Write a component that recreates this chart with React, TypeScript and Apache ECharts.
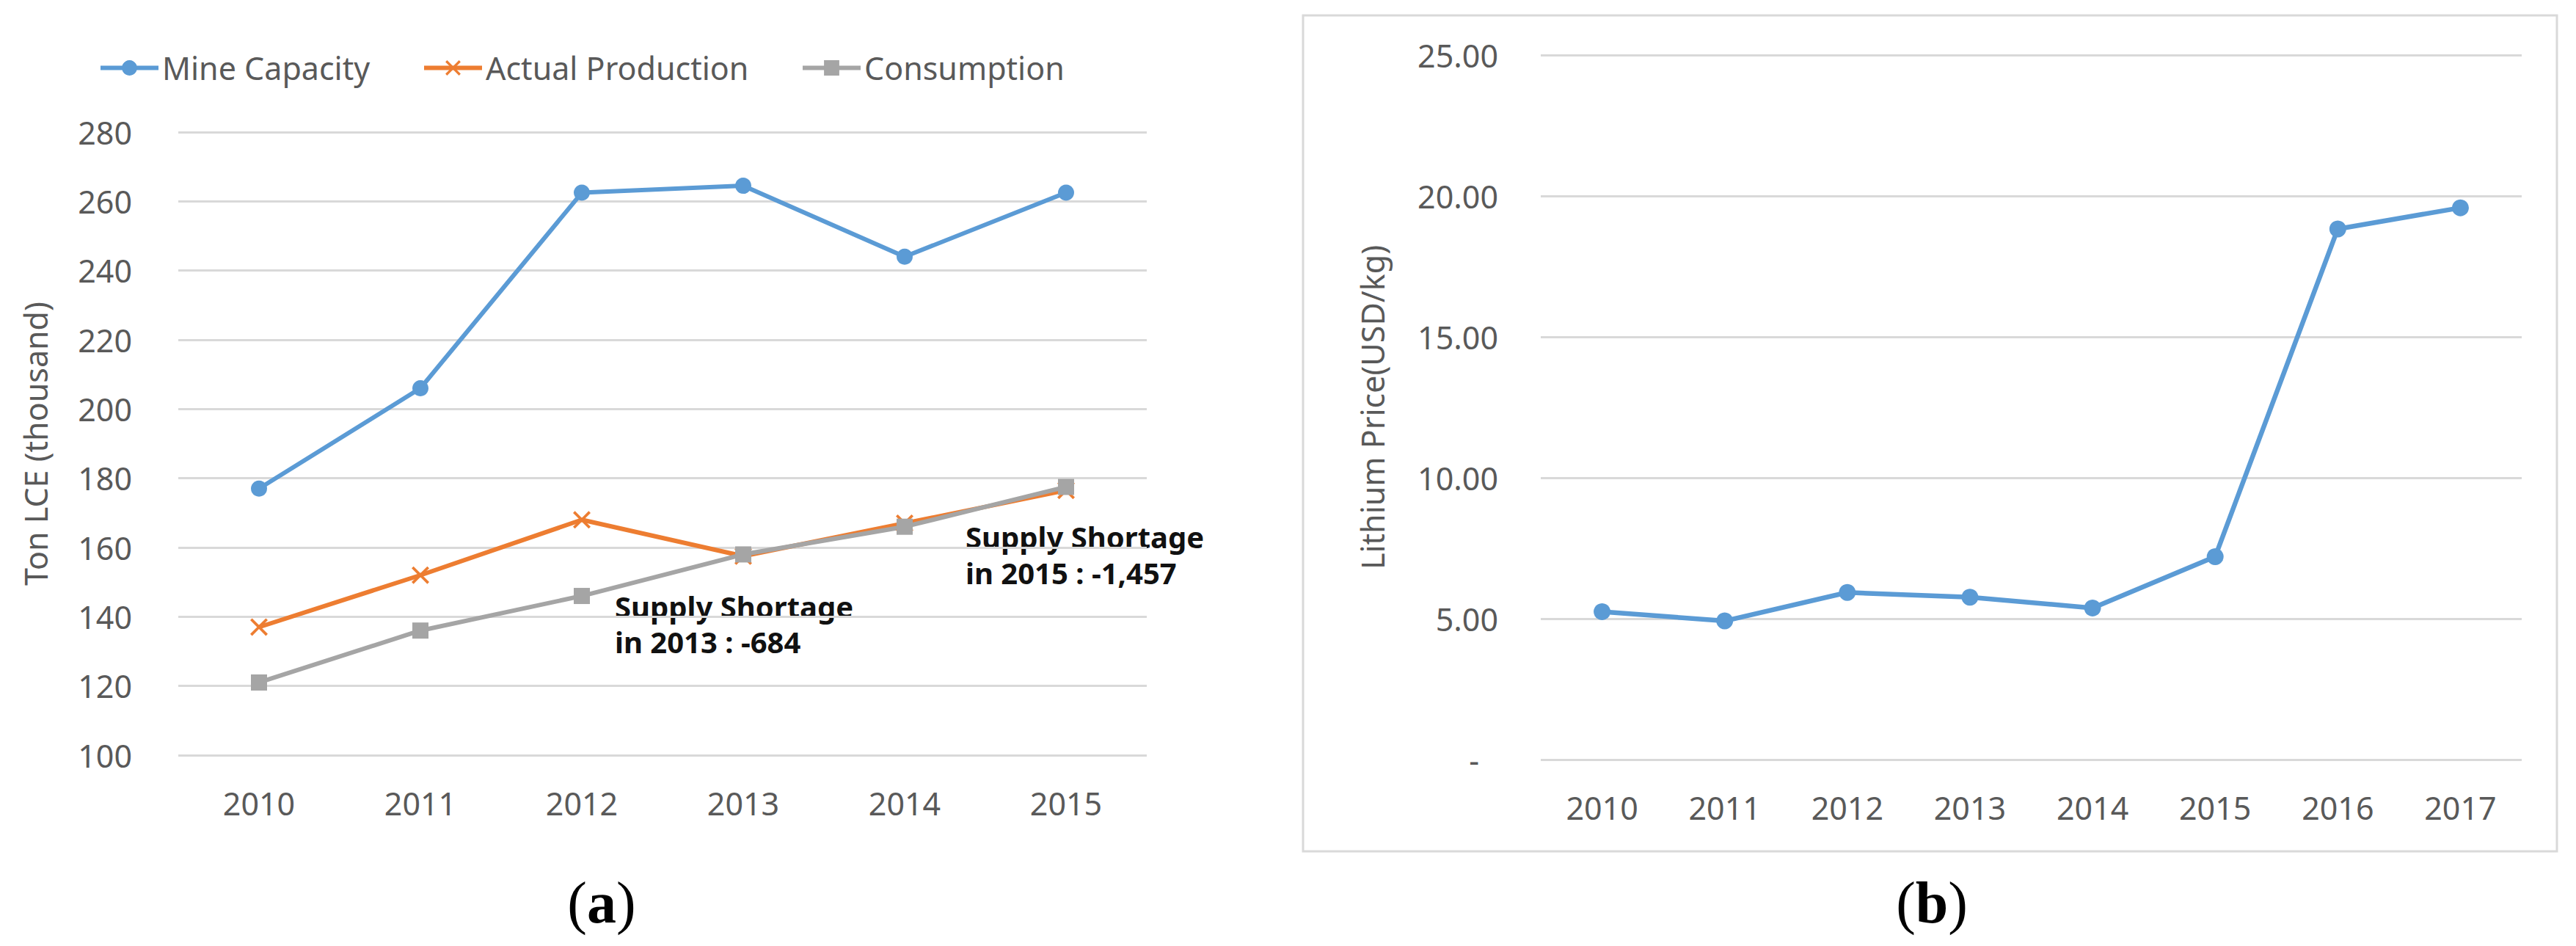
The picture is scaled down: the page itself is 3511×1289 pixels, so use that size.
import React, { useEffect, useRef } from "react";
import * as echarts from "echarts";

const yearsA = ["2010", "2011", "2012", "2013", "2014", "2015"];
const mineCapacity = [177, 206, 262.5, 264.5, 244, 262.5];
const actualProduction = [137, 152, 168, 157.5, 167, 176.5];
const consumption = [121, 136, 146, 158, 166, 177.5];

const yearsB = ["2010", "2011", "2012", "2013", "2014", "2015", "2016", "2017"];
const lithiumPrice = [5.25, 4.92, 5.93, 5.76, 5.38, 7.2, 18.83, 19.58];

const seriesNames = ["Mine Capacity", "Actual Production", "Consumption"];
const annotation2013 = "Supply Shortage\nin 2013 : -684";
const annotation2015 = "Supply Shortage\nin 2015 : -1,457";

const FONT = "'Noto Sans', 'Open Sans', sans-serif";
const TXT = "#595959";
const GRID = "#D9D9D9";
const BLUE = "#5B9BD5";
const ORANGE = "#ED7D31";
const GRAY = "#A5A5A5";
const X_SYMBOL =
  "path://M0,2.2L2.2,0L10,7.8L17.8,0L20,2.2L12.2,10L20,17.8L17.8,20L10,12.2L2.2,20L0,17.8L7.8,10Z";

export default function App() {
  const ref = useRef<HTMLDivElement>(null);
  useEffect(() => {
    if (!ref.current) return;
    const chart = echarts.init(ref.current, null, { renderer: "svg" });
    const legendText = { color: TXT, fontSize: 43, fontFamily: FONT };
    const mkLegend = (name: string, left: number) => ({
      data: [name],
      left,
      top: 66,
      itemWidth: 79,
      itemHeight: 26,
      itemGap: 70,
      lineStyle: { width: 6 },
      textStyle: legendText,
    });
    const option: any = {
      animation: false,
      backgroundColor: "#ffffff",
      legend: [
        mkLegend(seriesNames[0], 129),
        mkLegend(seriesNames[1], 570),
        mkLegend(seriesNames[2], 1086),
      ],
      grid: [
        { left: 243, right: 3511 - 1563, top: 180, bottom: 1289 - 1029 },
        { left: 2100, right: 3511 - 3437, top: 75, bottom: 1289 - 1035 },
      ],
      xAxis: [
        {
          type: "category",
          gridIndex: 0,
          data: yearsA,
          axisLine: { show: false },
          axisTick: { show: false },
          axisLabel: { color: TXT, fontSize: 43, fontFamily: FONT, margin: 44 },
        },
        {
          type: "category",
          gridIndex: 1,
          data: yearsB,
          axisLine: { show: false },
          axisTick: { show: false },
          axisLabel: { color: TXT, fontSize: 43, fontFamily: FONT, margin: 44 },
        },
      ],
      yAxis: [
        {
          type: "value",
          gridIndex: 0,
          min: 100,
          max: 280,
          interval: 20,
          name: "Ton LCE (thousand)",
          nameLocation: "middle",
          nameRotate: 90,
          nameGap: 173,
          nameTextStyle: { color: TXT, fontSize: 43, fontFamily: FONT },
          axisLine: { show: false },
          axisTick: { show: false },
          axisLabel: { color: TXT, fontSize: 43, fontFamily: FONT, margin: 63 },
          splitLine: { lineStyle: { color: GRID, width: 3 } },
        },
        {
          type: "value",
          gridIndex: 1,
          min: 0,
          max: 25,
          interval: 5,
          name: "Lithium Price(USD/kg)",
          nameLocation: "middle",
          nameRotate: 90,
          nameGap: 208,
          nameTextStyle: { color: TXT, fontSize: 43, fontFamily: FONT },
          axisLine: { show: false },
          axisTick: { show: false },
          axisLabel: {
            color: TXT,
            fontSize: 43,
            fontFamily: FONT,
            margin: 58,
            formatter: (v: number) => (v === 0 ? "{d|-}" : v.toFixed(2)),
            rich: { d: { color: TXT, fontSize: 43, fontFamily: FONT, padding: [0, 26, 0, 0] } },
          },
          splitLine: { lineStyle: { color: GRID, width: 3 } },
        },
      ],
      series: [
        {
          name: seriesNames[0],
          type: "line",
          xAxisIndex: 0,
          yAxisIndex: 0,
          data: mineCapacity,
          symbol: "circle",
          symbolSize: 22,
          lineStyle: { color: BLUE, width: 6 },
          itemStyle: { color: BLUE },
        },
        {
          name: seriesNames[1],
          type: "line",
          xAxisIndex: 0,
          yAxisIndex: 0,
          data: actualProduction,
          symbol: X_SYMBOL,
          symbolSize: 24,
          lineStyle: { color: ORANGE, width: 6 },
          itemStyle: { color: ORANGE },
        },
        {
          name: seriesNames[2],
          type: "line",
          xAxisIndex: 0,
          yAxisIndex: 0,
          data: consumption,
          symbol: "rect",
          symbolSize: 22,
          lineStyle: { color: GRAY, width: 6 },
          itemStyle: { color: GRAY },
        },
        {
          name: "Lithium Price",
          type: "line",
          xAxisIndex: 1,
          yAxisIndex: 1,
          data: lithiumPrice,
          symbol: "circle",
          symbolSize: 23,
          lineStyle: { color: BLUE, width: 6.5 },
          itemStyle: { color: BLUE },
        },
      ],
      graphic: [
        {
          type: "rect",
          shape: { x: 1776, y: 21, width: 1709, height: 1139 },
          style: { fill: "none", stroke: GRID, lineWidth: 3 },
          silent: true,
        },
        {
          type: "text",
          x: 838,
          y: 802,
          style: {
            text: annotation2013,
            fill: "#111111",
            font: `bold 40px ${FONT}`,
            lineHeight: 48,
            verticalAlign: "top",
          },
        },
        {
          type: "text",
          x: 1316,
          y: 707,
          style: {
            text: annotation2015,
            fill: "#111111",
            font: `bold 40px ${FONT}`,
            lineHeight: 49,
            verticalAlign: "top",
          },
        },
        {
          type: "text",
          x: 820,
          y: 1230,
          style: {
            text: "{p|(}{b|a}{p|)}",
            align: "center",
            verticalAlign: "middle",
            rich: {
              p: { fontFamily: "'Liberation Serif', serif", fontSize: 80, fill: "#000" },
              b: { fontFamily: "'Liberation Serif', serif", fontSize: 80, fontWeight: "bold", fill: "#000" },
            },
          },
        },
        {
          type: "text",
          x: 2633,
          y: 1230,
          style: {
            text: "{p|(}{b|b}{p|)}",
            align: "center",
            verticalAlign: "middle",
            rich: {
              p: { fontFamily: "'Liberation Serif', serif", fontSize: 80, fill: "#000" },
              b: { fontFamily: "'Liberation Serif', serif", fontSize: 80, fontWeight: "bold", fill: "#000" },
            },
          },
        },
      ],
    };
    chart.setOption(option);
    return () => chart.dispose();
  }, []);
  return (
    <div
      ref={ref}
      style={{ position: "fixed", left: 0, top: 0, width: 3511, height: 1289, background: "#fff" }}
    />
  );
}
